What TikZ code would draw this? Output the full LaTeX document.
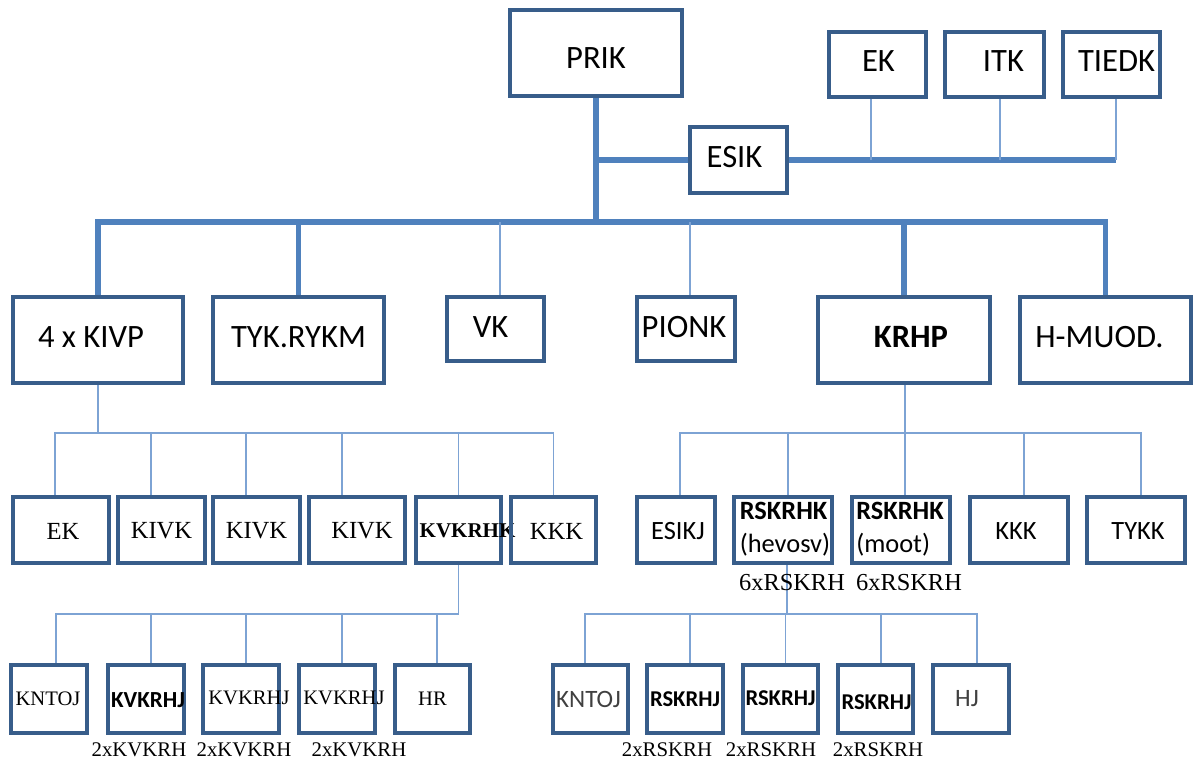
\documentclass[tikz,border=0pt]{standalone}
\usepackage{fontspec}
\setmainfont{Liberation Serif}
\setsansfont{Carlito}
\usetikzlibrary{backgrounds}
\definecolor{cBox}{RGB}{56,93,138}
\definecolor{cThick}{RGB}{79,129,189}
\definecolor{cThin}{RGB}{125,163,212}
\newcommand{\SA}{\sffamily\fontsize{16.3}{19}\selectfont}
\newcommand{\SB}{\sffamily\fontsize{13.2}{16.5}\selectfont}
\newcommand{\SC}{\sffamily\bfseries\fontsize{11.5}{14}\selectfont}
\newcommand{\SD}{\sffamily\fontsize{12.5}{15}\selectfont\color{black!75}}
\newcommand{\SE}{\sffamily\bfseries\fontsize{11.3}{14}\selectfont}
\newcommand{\RA}{\rmfamily\fontsize{12.3}{14}\selectfont}
\newcommand{\RB}{\rmfamily\bfseries\fontsize{10.5}{13}\selectfont}
\newcommand{\RC}{\rmfamily\fontsize{10.3}{12}\selectfont}
\newcommand{\RL}{\rmfamily\fontsize{10.4}{12}\selectfont}
\newcommand{\RM}{\rmfamily\fontsize{12.2}{14}\selectfont}
\tikzset{
  box/.style={draw=cBox, line width=2pt, inner sep=0pt},
  bigline/.style={draw=cThick, line width=2.6pt},
  smallline/.style={draw=cThin, line width=0.8pt},
  lab/.style={inner sep=0pt, font=\RL},
  labsix/.style={inner sep=0pt, font=\RM},
}
% name, x1, y1, x2, y2, dx, dy, label options, text
\newcommand{\obox}[9]{%
  \node[box, minimum width={(#4-#2)*0.5pt}, minimum height={(#5-#3)*0.5pt},
        label={[inner sep=0pt, #8, xshift={(#6)*0.5pt}, yshift={-(#7)*0.5pt}]center:#9}]
        (#1) at ({(#2+#4)/2},{(#3+#5)/2}) {};}
\begin{document}
\begin{tikzpicture}[x=0.5pt, y=-0.5pt]
\useasboundingbox (0,0) rectangle (1194,760);
% top level
\obox{prik}{510}{10}{682}{96}{0}{5}{font=\SA}{PRIK}
\obox{ekt}{829}{32}{926}{97}{1}{-3}{font=\SA}{EK}
\obox{itk}{945}{32}{1044}{97}{9}{-3}{font=\SA}{ITK}
\obox{tiedk}{1063}{32}{1160}{97}{5}{-3}{font=\SA}{TIEDK}
\obox{esik}{690}{127}{787}{193}{-4}{-3}{font=\SA}{ESIK}
% level 2
\obox{kivp}{13}{297}{183}{383}{-7}{-3}{font=\SA}{4 x KIVP}
\obox{tyk}{213}{297}{384}{383}{0}{-3}{font=\SA}{TYK.RYKM}
\obox{vk}{447}{297}{544}{361}{-5}{-2}{font=\SA}{VK}
\obox{pionk}{637}{297}{735}{361}{-2}{-2}{font=\SA}{PIONK}
\obox{krhp}{818}{297}{990}{383}{7}{-3}{font=\SA\bfseries}{KRHP}
\obox{hmuod}{1020}{297}{1191}{383}{-6}{-3}{font=\SA}{H-MUOD.}
% level 3 left
\obox{ekb}{13}{497}{109}{563}{2}{1}{font=\RA}{EK}
\obox{kivka}{118}{497}{205}{563}{0}{1}{font=\RA}{KIVK}
\obox{kivkb}{213}{497}{300}{563}{0}{1}{font=\RA}{KIVK}
\obox{kivkc}{309}{497}{405}{563}{5}{1}{font=\RA}{KIVK}
\obox{kvkrhk}{416}{497}{501}{563}{9}{1}{font=\RB}{KVKRHK}
\obox{kkka}{511}{497}{596}{563}{3}{1}{font=\RA}{KKK}
% level 3 right
\obox{esikj}{637}{497}{715}{563}{2}{1}{font=\SB}{ESIKJ}
\obox{rska}{734}{497}{832}{563}{2}{-1}{font=\SB, align=left}{\textbf{RSKRHK}\\(hevosv)}
\obox{rskb}{852}{497}{950}{563}{-1}{-1}{font=\SB, align=left}{\textbf{RSKRHK}\\(moot)}
\obox{kkkb}{970}{497}{1068}{563}{-3}{1}{font=\SB}{KKK}
\obox{tykk}{1087}{497}{1185}{563}{2}{1}{font=\SB}{TYKK}
% level 4 left
\obox{kna}{11}{665}{87}{733}{-1}{0}{font=\RC}{KNTOJ}
\obox{kvja}{108}{665}{184}{733}{2}{1}{font=\SC}{KVKRHJ}
\obox{kvjb}{203}{665}{279}{733}{8}{-1}{font=\RC}{KVKRHJ}
\obox{kvjc}{299}{665}{375}{733}{7}{-1}{font=\RC}{KVKRHJ}
\obox{hr}{395}{665}{470}{733}{0}{0}{font=\RC}{HR}
% level 4 right
\obox{knb}{553}{665}{628}{733}{-2}{0}{font=\SD}{KNTOJ}
\obox{rsja}{647}{665}{723}{733}{0}{0}{font=\SE}{RSKRHJ}
\obox{rsjb}{743}{665}{818}{733}{0}{-1}{font=\SE}{RSKRHJ}
\obox{rsjc}{838}{665}{913}{733}{1}{3}{font=\SE}{RSKRHJ}
\obox{hj}{933}{665}{1009}{733}{-4}{0}{font=\SD}{HJ}
% free labels
\node[labsix] (sixa) at (792,583) {6xRSKRH};
\node[labsix] (sixb) at (909,583) {6xRSKRH};
\node[lab] (twoa) at (139,750) {2xKVKRH};
\node[lab] (twob) at (244,750) {2xKVKRH};
\node[lab] (twoc) at (359,750) {2xKVKRH};
\node[lab] (twod) at (667,750) {2xRSKRH};
\node[lab] (twoe) at (771,750) {2xRSKRH};
\node[lab] (twof) at (878,750) {2xRSKRH};
% junction coordinates
\coordinate (bus) at (596,222);
\coordinate (ja) at (98,433);
\coordinate (jb) at (458,614);
\coordinate (jc) at (905,433);
\coordinate (jd) at (786,614);
\begin{pgfonlayer}{background}
% top
\draw[bigline] (prik.south) -- (bus);
\draw[bigline] (prik.south |- esik.west) -- (esik.west);
\draw[bigline] (esik.east) -- ([xshift=2.25pt]tiedk.south |- esik.east);
\draw[smallline] ([xshift=-3.25pt]ekt.south) -- ([xshift=-3.25pt]ekt.south |- esik.east);
\draw[smallline] ([xshift=2.75pt]itk.south) -- ([xshift=2.75pt]itk.south |- esik.east);
\draw[smallline] ([xshift=2.25pt]tiedk.south) -- ([xshift=2.25pt]tiedk.south |- esik.east);
% main bus
\draw[bigline] (kivp.north) |- (bus) -| (hmuod.north);
\draw[bigline] (bus -| tyk.north) -- (tyk.north);
\draw[bigline] (bus -| krhp.north) -- (krhp.north);
\draw[smallline] ([xshift=2.25pt]bus -| vk.north) -- ([xshift=2.25pt]vk.north);
\draw[smallline] ([xshift=2pt]bus -| pionk.north) -- ([xshift=2pt]pionk.north);
% level 3 left
\draw[smallline] (kivp.south) -- (ja);
\draw[smallline] ([xshift=-3pt]ekb.north) |- (kkka.north |- ja) -- (kkka.north);
\foreach \n/\s in {kivka/-5.25, kivkb/-5.25, kivkc/-7.5, kvkrhk/0}
  \draw[smallline] ([xshift=\s pt]\n.north) -- ([xshift=\s pt]\n.north |- ja);
% level 4 left
\draw[smallline] (kvkrhk.south) -- (kvkrhk.south |- jb);
\draw[smallline] ([xshift=3.5pt]kna.north) |- (kvkrhk.south |- jb);
\foreach \n/\s in {kvja/2.5, kvjb/2.5, kvjc/2.5, hr/2.25}
  \draw[smallline] ([xshift=\s pt]\n.north) -- ([xshift=\s pt]\n.north |- jb);
% level 3 right
\draw[smallline] ([xshift=0.5pt]krhp.south) -- ([xshift=0.5pt]krhp.south |- jc);
\draw[smallline] ([xshift=2pt]esikj.north) |- ([xshift=2.5pt]tykk.north |- jc) -- ([xshift=2.5pt]tykk.north);
\foreach \n/\s in {rska/2.5, rskb/2, kkkb/2.5}
  \draw[smallline] ([xshift=\s pt]\n.north) -- ([xshift=\s pt]\n.north |- jc);
% level 4 right
\draw[smallline] ([xshift=2pt]rska.south) -- ([xshift=2pt]rska.south |- jd);
\draw[smallline] ([xshift=-2.75pt]knb.north) |- ([xshift=3pt]hj.north |- jd) -- ([xshift=3pt]hj.north);
\foreach \n/\s in {rsja/2.5, rsjb/2.5, rsjc/2.75}
  \draw[smallline] ([xshift=\s pt]\n.north) -- ([xshift=\s pt]\n.north |- jd);
\end{pgfonlayer}
\end{tikzpicture}
\end{document}
